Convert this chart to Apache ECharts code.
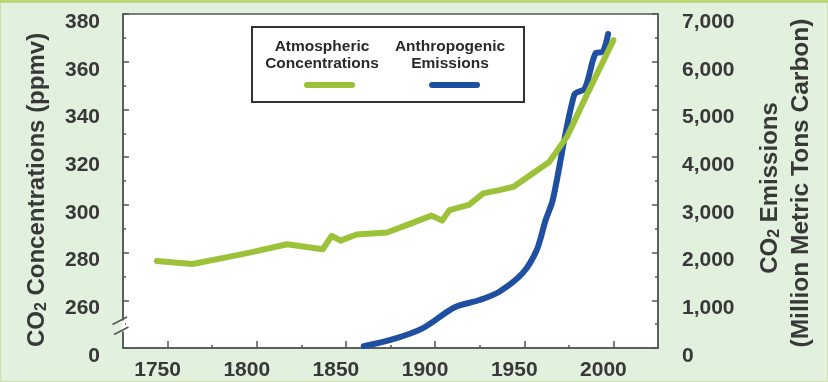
<!DOCTYPE html>
<html>
<head>
<meta charset="utf-8">
<script src="https://cdn.jsdelivr.net/npm/echarts@6/dist/echarts.min.js"></script>
<style>
html,body{margin:0;padding:0;background:#e2f0de;}
#chart{width:828px;height:382px;}
</style>
</head>
<body>
<div id="chart"></div>
<script>
// ---- Data ----
const concYears = [1744, 1764, 1785, 1796, 1817, 1837, 1842, 1847, 1856, 1873, 1884, 1898, 1904, 1908, 1919, 1927, 1936, 1944, 1964, 1974, 1985, 2000];
const concValues = [276.5, 275.2, 278.3, 280, 283.5, 281.4, 287, 285, 287.6, 288.4, 291.5, 295.5, 293.4, 297.8, 300, 304.8, 306.2, 307.6, 318, 328.6, 346, 369];
const emisYears = [1860, 1875, 1893, 1911, 1925, 1936, 1949, 1957, 1962, 1966, 1978, 1984, 1990, 1994, 1997];
const emisValues = [40, 168, 412, 853, 1006, 1180, 1565, 2054, 2683, 3102, 5303, 5443, 6177, 6210, 6581];
const xMajorTicks = [1750, 1800, 1850, 1900, 1950, 2000];
const xMinorTicks = [1775, 1825, 1875, 1925, 1975];
const legendNames = ['Atmospheric\nConcentrations', 'Anthropogenic\nEmissions'];

const FONT = "'Liberation Sans', Arial, Helvetica, sans-serif";
const GREEN = '#9cc23a';
const BLUE = '#1e4fa0';
const AXIS = '#555555';
const TXT = '#383838';

const chart = echarts.init(document.getElementById('chart'));
const pair = (xs, ys) => xs.map((x, i) => [x, ys[i]]);

const option = {
  backgroundColor: '#e2f0de',
  animation: false,
  grid: {
    left: 123, right: 170, top: 14, bottom: 34,
    show: true, backgroundColor: '#ffffff', borderColor: AXIS, borderWidth: 1.5
  },
  xAxis: [{
    type: 'value', min: 1725, max: 2025, interval: 25,
    axisLine: { show: true, lineStyle: { color: AXIS, width: 1.5 } },
    axisTick: { show: true, inside: true, length: 7, customValues: xMajorTicks, lineStyle: { color: AXIS, width: 1.5 } },
    axisLabel: {
      customValues: xMajorTicks, margin: 12,
      fontFamily: FONT, fontWeight: 'bold', fontSize: 21, color: TXT,
      padding: [0, 20, 0, 0],
      formatter: v => String(v)
    },
    splitLine: { show: false }
  }, {
    type: 'value', min: 1725, max: 2025, interval: 25, position: 'bottom',
    axisLine: { show: false },
    axisTick: { show: true, inside: true, length: 3, customValues: xMinorTicks, lineStyle: { color: AXIS, width: 1.5 } },
    axisLabel: { show: false },
    splitLine: { show: false }
  }],
  yAxis: [{
    type: 'value', min: 240, max: 380, interval: 20, position: 'left',
    axisLine: { show: true, lineStyle: { color: AXIS, width: 1.5 } },
    axisTick: { show: true, inside: true, length: 6, lineStyle: { color: AXIS, width: 1.5 } },
    minorTick: { show: true, splitNumber: 2, length: 3, lineStyle: { color: AXIS, width: 1.5 } },
    axisLabel: {
      margin: 23, fontFamily: FONT, fontWeight: 'bold', fontSize: 21, color: TXT,
      verticalAlign: 'top', lineHeight: 16,
      formatter: v => (v === 240 ? '0' : String(v))
    },
    splitLine: { show: false }
  }, {
    type: 'value', min: 0, max: 7000, interval: 1000, position: 'right',
    axisLine: { show: true, lineStyle: { color: AXIS, width: 1.5 } },
    axisTick: { show: true, inside: true, length: 6, lineStyle: { color: AXIS, width: 1.5 } },
    minorTick: { show: true, splitNumber: 2, length: 3, lineStyle: { color: AXIS, width: 1.5 } },
    axisLabel: {
      margin: 24, fontFamily: FONT, fontWeight: 'bold', fontSize: 21, color: TXT,
      verticalAlign: 'top', lineHeight: 16,
      formatter: v => v.toLocaleString('en-US')
    },
    splitLine: { show: false }
  }],
  series: [{
    name: 'Anthropogenic Emissions', type: 'line', xAxisIndex: 0, yAxisIndex: 1,
    data: pair(emisYears, emisValues), showSymbol: false, symbol: 'none',
    smooth: 0.3,
    lineStyle: { color: BLUE, width: 6, cap: 'round', join: 'round' }, z: 2
  }, {
    name: 'Atmospheric Concentrations', type: 'line', xAxisIndex: 0, yAxisIndex: 0,
    data: pair(concYears, concValues), showSymbol: false, symbol: 'none',
    lineStyle: { color: GREEN, width: 6, cap: 'round', join: 'round' }, z: 3
  }],
  graphic: { elements: [
    // outer border
    { type: 'rect', shape: { x: 0.5, y: 0.5, width: 827, height: 381 }, style: { fill: 'none', stroke: '#cfe3a6', lineWidth: 1 }, z: 50 },
    { type: 'line', shape: { x1: 0, y1: 1.5, x2: 828, y2: 1.5 }, style: { stroke: '#b8d46e', lineWidth: 2.5 }, z: 50 },
    // axis break
    { type: 'rect', shape: { x: 121.5, y: 320.5, width: 3.5, height: 11 }, style: { fill: '#ffffff' }, z: 60 },
    { type: 'line', shape: { x1: 112.5, y1: 324.5, x2: 127, y2: 317 }, style: { stroke: AXIS, lineWidth: 1.5 }, z: 61 },
    { type: 'line', shape: { x1: 114, y1: 334.5, x2: 128.5, y2: 327 }, style: { stroke: AXIS, lineWidth: 1.5 }, z: 61 },
    // axis titles
    { type: 'text', x: 37, y: 190, rotation: Math.PI / 2, z: 60,
      style: { text: '{a|CO}{s|2}{a| Concentrations (ppmv)}', align: 'center', verticalAlign: 'middle', fill: TXT,
        rich: { a: { fontFamily: FONT, fontWeight: 'bold', fontSize: 24, lineHeight: 26, fill: TXT },
                s: { fontFamily: FONT, fontWeight: 'bold', fontSize: 16, lineHeight: 10, verticalAlign: 'bottom', fill: TXT } } } },
    { type: 'text', x: 770, y: 188, rotation: Math.PI / 2, z: 60,
      style: { text: '{a|CO}{s|2}{a| Emissions}', align: 'center', verticalAlign: 'middle', fill: TXT,
        rich: { a: { fontFamily: FONT, fontWeight: 'bold', fontSize: 24, lineHeight: 26, fill: TXT },
                s: { fontFamily: FONT, fontWeight: 'bold', fontSize: 16, lineHeight: 10, verticalAlign: 'bottom', fill: TXT } } } },
    { type: 'text', x: 801, y: 183, rotation: Math.PI / 2, z: 60,
      style: { text: '(Million Metric Tons Carbon)', align: 'center', verticalAlign: 'middle', fill: TXT,
        font: "bold 24.5px " + FONT } },
    // legend
    { type: 'rect', shape: { x: 252, y: 27, width: 272, height: 75 }, style: { fill: '#ffffff', stroke: '#333333', lineWidth: 2 }, z: 70 },
    { type: 'text', x: 322, y: 38, z: 71,
      style: { text: legendNames[0], align: 'center', verticalAlign: 'top', fill: '#2a2a2a', font: "bold 15.5px " + FONT, lineHeight: 17 } },
    { type: 'text', x: 450, y: 38, z: 71,
      style: { text: legendNames[1], align: 'center', verticalAlign: 'top', fill: '#2a2a2a', font: "bold 15.5px " + FONT, lineHeight: 17 } },
    { type: 'line', shape: { x1: 307, y1: 85, x2: 352, y2: 85 }, style: { stroke: GREEN, lineWidth: 6, lineCap: 'round' }, z: 71 },
    { type: 'line', shape: { x1: 432, y1: 85, x2: 477, y2: 85 }, style: { stroke: BLUE, lineWidth: 6, lineCap: 'round' }, z: 71 }
  ] }
};
chart.setOption(option);
</script>
</body>
</html>
